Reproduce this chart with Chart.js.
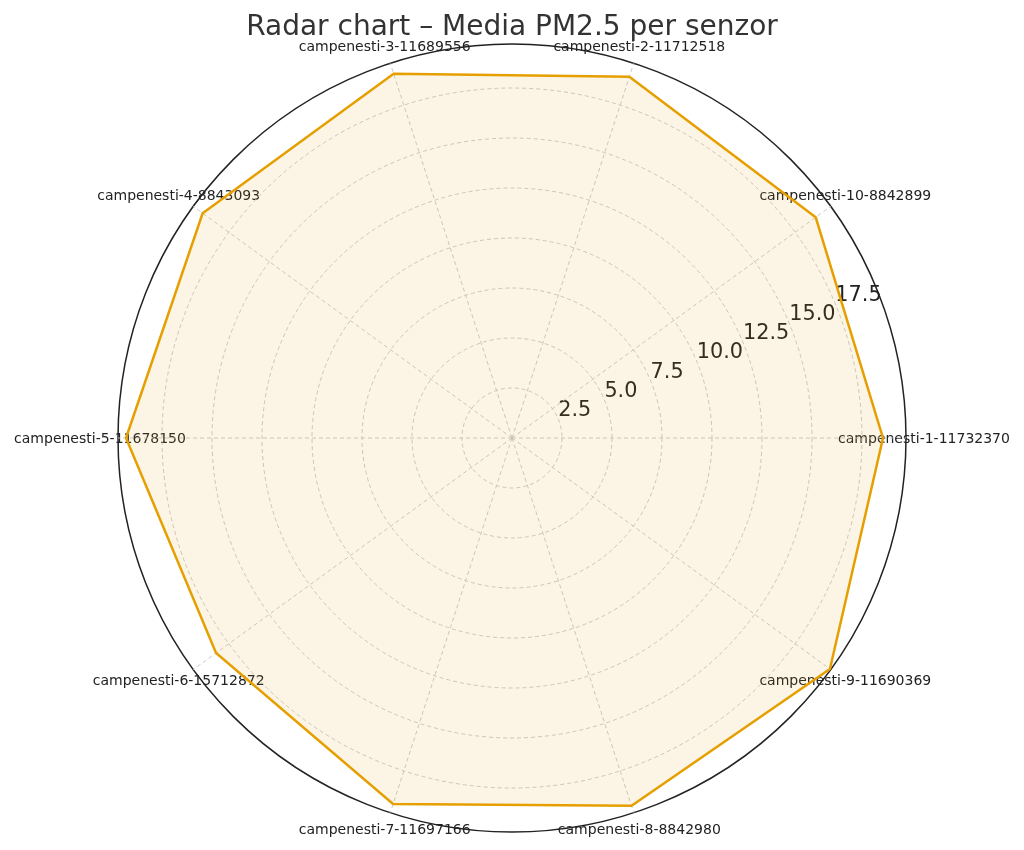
<!DOCTYPE html>
<html>
<head>
<meta charset="utf-8">
<script src="https://cdn.jsdelivr.net/npm/chart.js@4.4.1/dist/chart.umd.min.js"></script>
<style>
  body { margin: 0; background: #fff; }
  #wrap { width: 1024px; height: 850px; position: relative; }
</style>
</head>
<body>
<div id="wrap"><canvas id="radarChart"></canvas></div>
<script>
// senzori in ordinea de pe cerc (sens orar, pornind din dreapta)
const sensors = [
    'campenesti-1-11732370', 'campenesti-9-11690369', 'campenesti-8-8842980',
    'campenesti-7-11697166', 'campenesti-6-15712872', 'campenesti-5-11678150',
    'campenesti-4-8843093', 'campenesti-3-11689556', 'campenesti-2-11712518',
    'campenesti-10-8842899'
];
const pm25Mean = [18.55, 19.65, 19.34, 19.24, 18.29, 19.3, 19.12, 19.15, 18.99, 18.77];
const tickValues = [0, 2.5, 5.0, 7.5, 10.0, 12.5, 15.0, 17.5];
const rMax = 19.7;

const fontFamily = '"DejaVu Sans", sans-serif';

// etichete desenate manual (centrate, ca in matplotlib)
const labelsPlugin = {
    id: 'radarLabels',
    beforeDraw(chart) {
        const scale = chart.scales.r;
        const ctx = chart.ctx;
        ctx.save();
        ctx.fillStyle = '#222';
        ctx.font = '14px ' + fontFamily;
        ctx.textAlign = 'center';
        ctx.textBaseline = 'middle';
        sensors.forEach((name, i) => {
            const pos = scale.getPointPosition(i, scale.drawingArea + 18);
            ctx.fillText(name, pos.x, pos.y + 1);
        });

        // valorile axei radiale la 22.5 grade
        const ang = 22.5 * Math.PI / 180;
        ctx.font = '20.8px ' + fontFamily;
        ctx.textAlign = 'left';
        ctx.textBaseline = 'bottom';
        tickValues.slice(1).forEach(v => {
            const d = scale.getDistanceFromCenterForValue(v);
            ctx.fillText(v.toFixed(1), scale.xCenter + d * Math.cos(ang), scale.yCenter - d * Math.sin(ang) + 2);
        });
        ctx.restore();
    }
};

const ctx = document.getElementById('radarChart').getContext('2d');
new Chart(ctx, {
    type: 'radar',
    data: {
        labels: sensors,
        datasets: [{
            label: 'Media PM2.5',
            data: pm25Mean,
            backgroundColor: 'rgba(230, 159, 0, 0.1)',
            borderColor: '#E69F00',
            borderWidth: 2.5,
            pointRadius: 0,
            fill: true
        }]
    },
    options: {
        responsive: true,
        maintainAspectRatio: false,
        animation: false,
        layout: { padding: { top: 0, bottom: 17 } },
        plugins: {
            legend: { display: false },
            tooltip: { enabled: false },
            title: {
                display: true,
                text: 'Radar chart – Media PM2.5 per senzor',
                color: '#333',
                font: { family: fontFamily, size: 28, weight: 'normal' },
                padding: { top: 11, bottom: 0 }
            }
        },
        scales: {
            r: {
                min: 0,
                max: rMax,
                startAngle: 90,
                afterBuildTicks: (scale) => {
                    scale.ticks = tickValues.concat([rMax]).map(v => ({ value: v }));
                },
                ticks: { display: false },
                pointLabels: { display: false },
                grid: {
                    circular: true,
                    color: c => (c.tick && c.tick.value === rMax) ? '#222' : '#c4c4c4',
                    lineWidth: c => (c.tick && c.tick.value === rMax) ? 1.5 : 0.9
                },
                border: {
                    dash: c => (c.tick && c.tick.value === rMax) ? [] : [4, 3]
                },
                angleLines: {
                    color: '#c4c4c4',
                    lineWidth: 0.9,
                    borderDash: [4, 3]
                }
            }
        }
    },
    plugins: [labelsPlugin]
});
</script>
</body>
</html>
